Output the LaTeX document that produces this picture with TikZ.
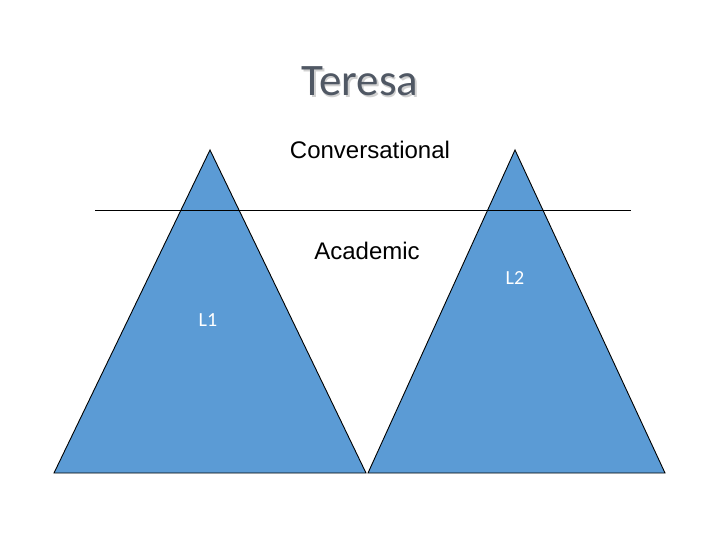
\documentclass[tikz,border=0pt]{standalone}
\usepackage{fontspec}
\setmainfont{Liberation Sans}
\newfontfamily\titlefont{Carlito}
\usetikzlibrary{positioning}
\definecolor{peakblue}{RGB}{91,155,213}
\definecolor{titlegray}{RGB}{80,88,100}

\begin{document}
\begin{tikzpicture}[
    x=1pt, y=-1pt,
    peak/.style={fill=peakblue, draw=black, line width=0.9pt, line join=miter},
    label/.style={font=\fontsize{24}{28}\selectfont, inner sep=0pt},
    lang/.style={font=\titlefont\fontsize{20}{24}\selectfont, text=white, inner sep=0pt}
]
    \useasboundingbox (0,0) rectangle (720,540);

    % the two peaks
    \coordinate (topA) at (210,150);
    \coordinate (leftA) at (54,473);
    \coordinate (rightA) at (366,473);
    \coordinate (topB) at (515,150);
    \coordinate (leftB) at (368,473);
    \coordinate (rightB) at (665,473);
    \draw[peak] (leftA) -- (topA) -- (rightA) -- cycle;
    \draw[peak] (leftB) -- (topB) -- (rightB) -- cycle;

    % water line
    \coordinate (lineL) at (95,210);
    \coordinate (lineR) at (631,210);
    \draw[line width=0.9pt] (lineL) -- (lineR);

    % title
    \node[font=\titlefont\fontsize{45}{52}\selectfont, text=black!18] (shadow) at (361.5,83.5) {Teresa};
    \node[font=\titlefont\fontsize{45}{52}\selectfont, text=titlegray] (title) at (360,81) {Teresa};

    \node[label] (conv) at (370,150) {Conversational};
    \node[label] (acad) at (367,251) {Academic};
    \node[lang] (lone) at (208,320) {L1};
    \node[lang] (ltwo) at (515,278) {L2};
\end{tikzpicture}
\end{document}
